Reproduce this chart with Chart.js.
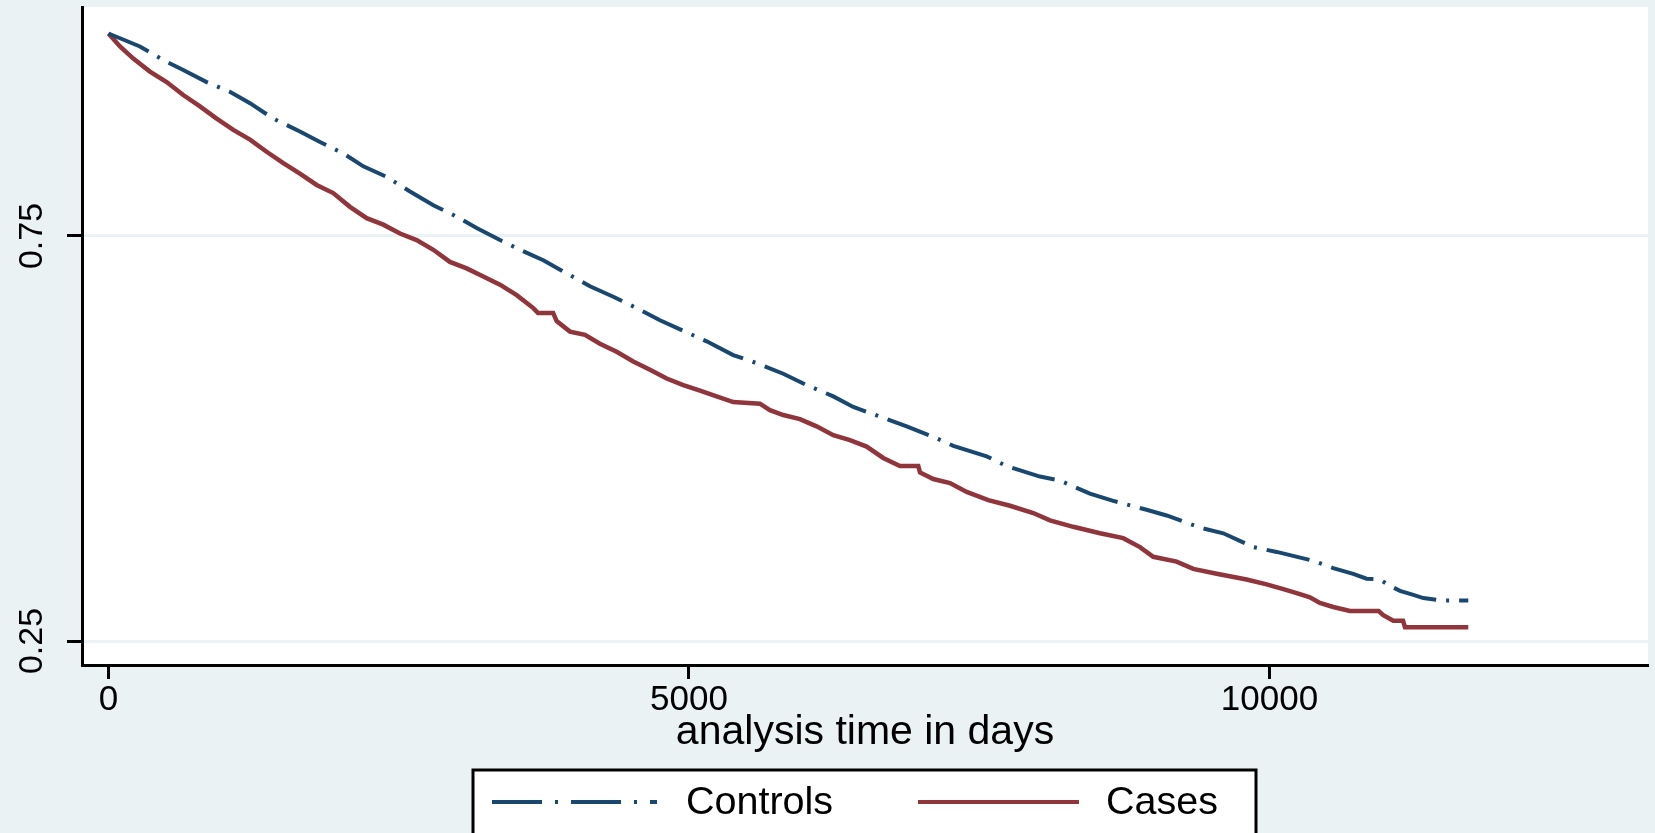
<!DOCTYPE html>
<html>
<head>
<meta charset="utf-8">
<script src="https://cdn.jsdelivr.net/npm/chart.js@4.4.1/dist/chart.umd.min.js"></script>
<style>
  html, body { margin: 0; padding: 0; background: #eaf2f3; }
  #wrap { width: 1655px; height: 833px; }
</style>
</head>
<body>
<div id="wrap"><canvas id="km" width="1655" height="833"></canvas></div>
<script>
// Kaplan-Meier estimates (analysis time in days, survival)
const controlsDays = [0, 271, 501, 644, 846, 1046, 1219, 1419, 1649, 1822, 2022, 2195, 2396, 2597, 2798, 2970, 3171, 3372, 3544, 3745, 3946, 4147, 4348, 4549, 4750, 4980, 5152, 5381, 5583, 5812, 6013, 6243, 6415, 6645, 6875, 7104, 7277, 7564, 7736, 8023, 8195, 8453, 8654, 8941, 9114, 9401, 9602, 9860, 10062, 10377, 10549, 10721, 10836, 10951, 11038, 11124, 11239, 11325, 11483, 11712];
const controlsSurv = [1.0, 0.984, 0.965, 0.955, 0.940, 0.928, 0.914, 0.895, 0.879, 0.866, 0.852, 0.836, 0.823, 0.805, 0.788, 0.776, 0.760, 0.745, 0.733, 0.720, 0.704, 0.688, 0.675, 0.661, 0.646, 0.631, 0.620, 0.603, 0.593, 0.580, 0.566, 0.552, 0.539, 0.527, 0.515, 0.502, 0.491, 0.478, 0.466, 0.453, 0.448, 0.432, 0.423, 0.412, 0.405, 0.390, 0.383, 0.366, 0.360, 0.349, 0.340, 0.333, 0.327, 0.326, 0.318, 0.312, 0.307, 0.303, 0.300, 0.300];

const casesDays = [0, 99, 214, 357, 501, 644, 788, 932, 1075, 1219, 1362, 1506, 1649, 1793, 1936, 2080, 2224, 2367, 2511, 2654, 2798, 2941, 3085, 3228, 3372, 3516, 3659, 3700, 3830, 3860, 3975, 4104, 4233, 4377, 4520, 4664, 4808, 4951, 5095, 5238, 5381, 5611, 5697, 5812, 5955, 6099, 6243, 6386, 6530, 6673, 6817, 6975, 6990, 7104, 7248, 7392, 7578, 7765, 7965, 8109, 8310, 8540, 8740, 8884, 8999, 9200, 9343, 9545, 9803, 9975, 10119, 10262, 10348, 10434, 10549, 10693, 10940, 10980, 11066, 11150, 11167, 11712];
const casesSurv = [1.0, 0.984, 0.969, 0.953, 0.940, 0.924, 0.910, 0.895, 0.881, 0.869, 0.854, 0.840, 0.827, 0.813, 0.803, 0.786, 0.772, 0.764, 0.753, 0.745, 0.733, 0.718, 0.710, 0.700, 0.690, 0.677, 0.661, 0.655, 0.655, 0.645, 0.632, 0.628, 0.617, 0.607, 0.595, 0.585, 0.574, 0.566, 0.559, 0.552, 0.545, 0.543, 0.535, 0.529, 0.524, 0.515, 0.504, 0.498, 0.490, 0.476, 0.466, 0.466, 0.458, 0.450, 0.445, 0.434, 0.424, 0.417, 0.408, 0.399, 0.391, 0.383, 0.377, 0.366, 0.354, 0.348, 0.339, 0.333, 0.326, 0.320, 0.314, 0.308, 0.304, 0.297, 0.292, 0.287, 0.287, 0.282, 0.275, 0.275, 0.267, 0.267];

const xTicks = [0, 5000, 10000];
const yTicks = [0.25, 0.75];
const seriesNames = ["Controls", "Cases"];

const FONT = "'Liberation Sans', Arial, sans-serif";
const NAVY = "#1a476f";
const MAROON = "#90353b";
const BG = "#eaf2f3";

const toPoints = (xs, ys) => xs.map((x, i) => ({ x, y: ys[i] }));

// grey page, white plot region
const background = {
  id: "background",
  beforeDraw(chart) {
    const { ctx, chartArea: a } = chart;
    ctx.save();
    ctx.fillStyle = BG;
    ctx.fillRect(0, 0, chart.width, chart.height);
    ctx.fillStyle = "#fff";
    ctx.fillRect(a.left, a.top, a.right - a.left, a.bottom - a.top);
    ctx.restore();
  }
};

// boxed legend under the axis title, like stata draws it
const boxLegend = {
  id: "boxLegend",
  afterDraw(chart) {
    const ctx = chart.ctx;
    const ds = chart.data.datasets;
    ctx.save();
    ctx.fillStyle = "#fff";
    ctx.fillRect(473, 770, 783, 80);
    ctx.strokeStyle = "#000";
    ctx.lineWidth = 3;
    ctx.strokeRect(473, 770, 783, 80);

    const items = [
      { x0: 492, x1: 657, tx: 686, dash: [50, 13, 3, 13] },
      { x0: 918, x1: 1079, tx: 1106, dash: [] }
    ];
    items.forEach((it, i) => {
      ctx.beginPath();
      ctx.setLineDash(it.dash);
      ctx.strokeStyle = ds[i].borderColor;
      ctx.lineWidth = 4;
      ctx.moveTo(it.x0, 802);
      ctx.lineTo(it.x1, 802);
      ctx.stroke();
      ctx.setLineDash([]);
      ctx.fillStyle = "#000";
      ctx.font = "39.5px " + FONT;
      ctx.textBaseline = "middle";
      ctx.fillText(ds[i].label, it.tx, 803);
    });
    ctx.restore();
  }
};

const noPad = s => { s.paddingTop = 0; s.paddingBottom = 0; s.paddingLeft = 0; s.paddingRight = 0; };

new Chart(document.getElementById("km"), {
  type: "line",
  data: {
    datasets: [
      {
        label: seriesNames[0],
        data: toPoints(controlsDays, controlsSurv),
        borderColor: NAVY,
        borderWidth: 4,
        borderDash: [44, 10, 3, 10],
        pointRadius: 0,
        tension: 0,
        fill: false
      },
      {
        label: seriesNames[1],
        data: toPoints(casesDays, casesSurv),
        borderColor: MAROON,
        borderWidth: 4.5,
        pointRadius: 0,
        tension: 0,
        fill: false
      }
    ]
  },
  options: {
    responsive: false,
    animation: false,
    devicePixelRatio: 1,
    layout: { padding: { top: 7, right: 7, left: 0, bottom: 76 } },
    plugins: {
      legend: { display: false },
      tooltip: { enabled: false }
    },
    scales: {
      x: {
        type: "linear",
        min: -228,
        max: 13260,
        afterFit: s => { s.height = 92; noPad(s); },
        afterBuildTicks: s => { s.ticks = xTicks.map(v => ({ value: v })); },
        grid: { drawOnChartArea: false, tickLength: 14, tickColor: "#000", tickWidth: 3 },
        border: { color: "#000", width: 3 },
        ticks: { color: "#000", font: { family: FONT, size: 35 }, padding: 0, maxRotation: 0, callback: v => String(v) },
        title: { display: true, text: "analysis time in days", color: "#000", font: { family: FONT, size: 41 }, padding: 0 }
      },
      y: {
        type: "linear",
        min: 0.2204,
        max: 1.0327,
        afterFit: s => { s.width = 82; noPad(s); },
        afterBuildTicks: s => { s.ticks = yTicks.map(v => ({ value: v })); },
        grid: { color: BG, lineWidth: 3, tickLength: 15, tickColor: "#000", tickWidth: 3 },
        border: { color: "#000", width: 3 },
        ticks: { color: "#000", font: { family: FONT, size: 34 }, minRotation: 90, maxRotation: 90, crossAlign: "center", padding: 1, callback: v => v.toFixed(2) }
      }
    }
  },
  plugins: [background, boxLegend]
});
</script>
</body>
</html>
